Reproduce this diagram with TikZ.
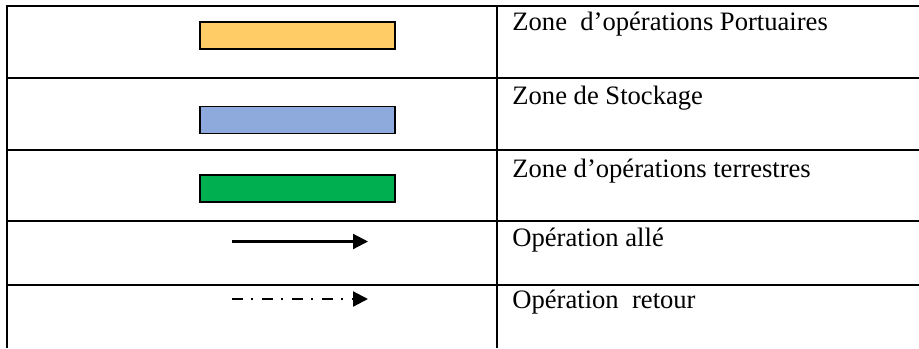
\documentclass[tikz,border=0pt]{standalone}
\usepackage{fontspec}
\setmainfont{Liberation Serif}
\usetikzlibrary{arrows.meta}
\definecolor{PortYellow}{HTML}{FFCC66}
\definecolor{StockBlue}{HTML}{8EA9DB}
\definecolor{LandGreen}{HTML}{00B050}
\tikzset{legend rule/.style={line width=1pt}}
\tikzset{legend swatch/.style={draw, line width=0.6pt, inner sep=0pt, minimum width=97.5pt, minimum height=13.5pt}}
\tikzset{legend label/.style={anchor=base west, inner sep=0pt, font=\fontsize{13.3}{15}\selectfont}}
\tikzset{legend arrow/.style={line width=1.1pt, -{Triangle[length=7.5pt,width=7.5pt]}}}

\begin{document}
\begin{tikzpicture}[x=0.5pt, y=-0.5pt]
\useasboundingbox (0,0) rectangle (919,348);

% table rules
\draw[legend rule] (6.5,5.5) -- (6.5,348);
\draw[legend rule] (497,5.5) -- (497,348);
\foreach \y in {6, 78, 150, 221, 285}
	\draw[legend rule] (6,\y) -- (919,\y);

\node[legend swatch, fill=PortYellow] (port) at (297.5,35.5) {};
\node[legend label] (port label) at (512,30) {Zone\ \ d’opérations Portuaires};
\node[legend swatch, fill=StockBlue] (stock) at (297.5,120) {};
\node[legend label] (stock label) at (512,104) {Zone de Stockage};
\node[legend swatch, fill=LandGreen] (land) at (297.5,188.5) {};
\node[legend label] (land label) at (512,177) {Zone d’opérations terrestres};

\coordinate (go start) at (232,241.5);
\coordinate (go end) at (368,241.5);
\draw[legend arrow] (go start) -- (go end);
\node[legend label] (go label) at (512,246) {Opération allé};

\coordinate (back start) at (232,299);
\coordinate (back end) at (368,299);
\draw[legend arrow, dash pattern=on 5.5pt off 4pt on 1pt off 4.5pt] (back start) -- (back end);
\node[legend label] (back label) at (512,308) {Opération\ \ retour};

\end{tikzpicture}
\end{document}
